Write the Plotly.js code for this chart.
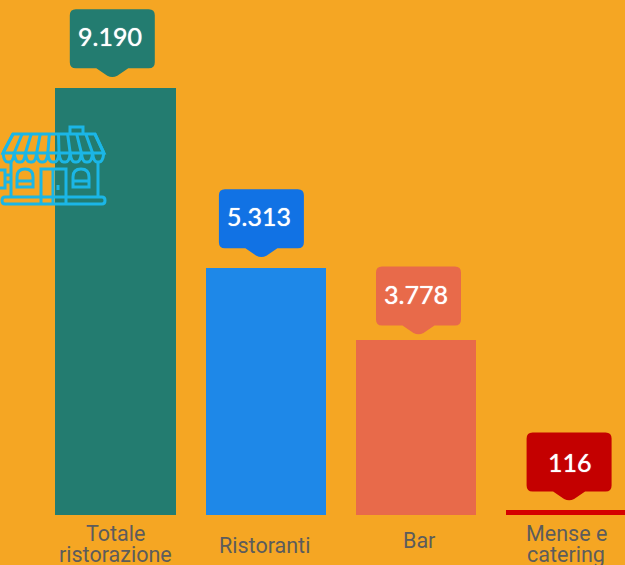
<!DOCTYPE html>
<html><head><meta charset="utf-8">
<script src="https://cdn.plot.ly/plotly-3.0.1.min.js"></script>
<style>html,body{margin:0;padding:0;background:#F5A623;overflow:hidden}</style>
</head><body><div id="chart" style="width:625px;height:565px"></div>
<script>
const categories = ["Totale ristorazione","Ristoranti","Bar","Mense e catering"];
const axisLines = [["Totale","ristorazione"],["Ristoranti"],["Bar"],["Mense e","catering"]];
const values = [9190,5313,3778,116];
const valueLabels = ["9.190","5.313","3.778","116"];
const barColors = ["#237C70","#1E88E8","#E86A4A","#D50000"];
const calloutColors = ["#237C70","#1172E4","#E86A4A","#C40000"];
const labelDx = [0,-1,3,0];
const labelCentre = [[-18,-39],[-30],[-25],[-18,-39]];
const calloutDx = [-3.5,-4.5,2.5,3];
const calloutDy = [11,11,5,9];
const textDx = [-5.5,-6.5,0,3.5];
const textDy = [41,41,40.5,38.5];

function calloutPath(dx,dy){
  const l=dx-42.5,r=dx+42.5,b=dy+9,t=dy+68,R=6;
  return `M${l+R},${t} L${r-R},${t} Q${r},${t} ${r},${t-R} L${r},${b+R} Q${r},${b} ${r-R},${b} L${dx+16},${b} L${dx+5},${dy+1.5} Q${dx},${dy-1} ${dx-5},${dy+1.5} L${dx-16},${b} L${l+R},${b} Q${l},${b} ${l},${b+R} L${l},${t-R} Q${l},${t} ${l+R},${t} Z`;
}
const shapes = values.map((v,i)=>({type:"path",xref:"x",yref:"y",xsizemode:"pixel",ysizemode:"pixel",
  xanchor:i,yanchor:v,path:calloutPath(calloutDx[i],calloutDy[i]),fillcolor:calloutColors[i],line:{width:0},layer:"above"}));

// decorative shop icon, page pixels (x right, y down from the top of the page)
const iconColor="#1BB6E6";
let stripes="",scallops="M3,153";
for(let k=0;k<=9;k++){
  const top=13+k*9.1, bot=3+k*11.2;
  stripes+=`M${top},134 L${bot},153 `;
  if(k<9) scallops+=` Q${bot+1},163 ${bot+5.6},162 Q${bot+10.2},163 ${bot+11.2},153`;
}
const iconPaths=[
 "M13,134 L95,134 L104,153 L3,153 Z",
 "M70,134 L70,127 L83,127 L83,134",
 stripes, scallops,
 "M11,161 L11,197 M98,161 L98,197",
 "M5,197 L102,197 Q105,197 105,200.5 Q105,204 102,204 L5,204 Q2,204 2,200.5 Q2,197 5,197 Z",
 "M41,204 L41,169 L66,169 L66,204 M53,169 L53,204",
 "M17,187 L17,177 Q17,169 25,169 Q33,169 33,177 L33,187 Z M17,181 L33,181",
 "M73,187 L73,177 Q73,169 81,169 Q89,169 89,177 L89,187 Z M73,181 L89,181",
 "M0,170 L5,170 L5,188 L0,188 M5,175 L11,175 M5,182 L11,182",
 "M58,185 L58,190"
];
const iconShapes=iconPaths.map(d=>({type:"path",xref:"x domain",yref:"y domain",xsizemode:"pixel",ysizemode:"pixel",
  xanchor:0,yanchor:1,path:d.replace(/(-?[\d.]+),(-?[\d.]+)/g,(m,a,b)=>`${a},${-b}`),line:{color:iconColor,width:3},fillcolor:"rgba(0,0,0,0)",layer:"above"}));

const annotations=[];
values.forEach((v,i)=>{
  annotations.push({x:i,y:v,xref:"x",yref:"y",xanchor:"center",yanchor:"middle",
    xshift:textDx[i],yshift:calloutDy[i]+textDy[i],showarrow:false,text:valueLabels[i],
    font:{family:"Lato",size:25,color:"#FFFFFF",shadow:"0 0 1px #fff"}});
  axisLines[i].forEach((t,j)=>annotations.push({x:i,y:0,xref:"x",yref:"y",xanchor:"center",yanchor:"middle",
    xshift:labelDx[i],yshift:labelCentre[i][j],showarrow:false,text:t,
    font:{family:"Roboto",size:21.5,color:"#5C5C5C"}}));
});

Plotly.newPlot("chart",[{type:"bar",x:[0,1,2,3],y:values,width:0.804,marker:{color:barColors,line:{width:0}},
   customdata:categories,hoverinfo:"none"}],
 {width:625,height:565,margin:{l:0,r:0,t:0,b:50,pad:0},paper_bgcolor:"#F5A623",plot_bgcolor:"#F5A623",
  showlegend:false,bargap:0,
  xaxis:{range:[-0.7715,3.3925],visible:false,fixedrange:true},
  yaxis:{range:[0,11090],visible:false,fixedrange:true},
  shapes:shapes.concat(iconShapes),annotations},
 {displayModeBar:false,staticPlot:true});
</script></body></html>
